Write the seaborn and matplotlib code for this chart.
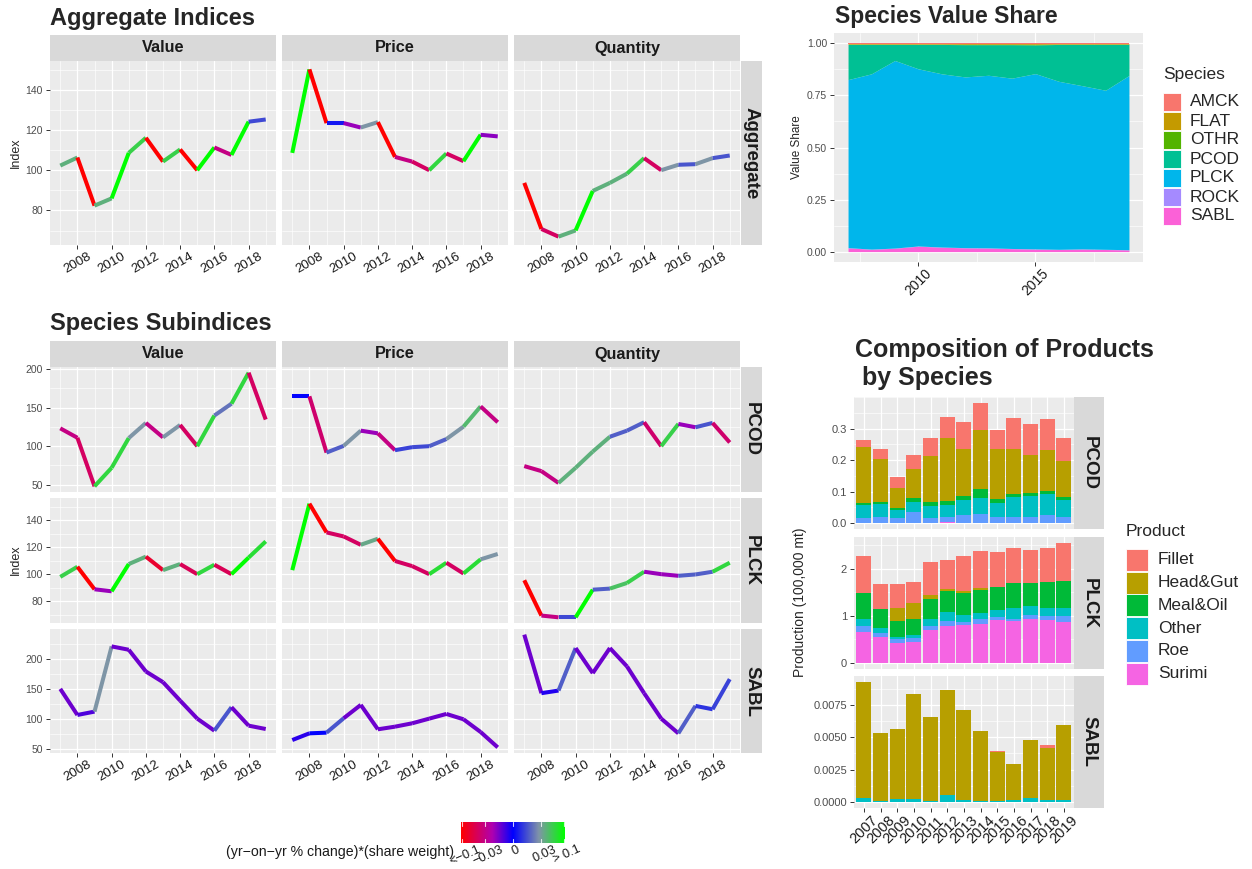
import numpy as np
import pandas as pd
import matplotlib
matplotlib.use("Agg")
import matplotlib.pyplot as plt
import seaborn as sns
from matplotlib.colors import LinearSegmentedColormap
from matplotlib.patches import Rectangle
from matplotlib.ticker import MultipleLocator, FixedLocator, FuncFormatter

# ------------------------------------------------------------------ data
years = [2007, 2008, 2009, 2010, 2011, 2012, 2013, 2014, 2015, 2016, 2017, 2018, 2019]
measures = ["Value", "Price", "Quantity"]

agg_value = [102.3, 106.3, 82.4, 86.0, 108.6, 116.1, 104.3, 110.3, 100.0, 111.3, 107.6, 124.1, 125.2]
agg_price = [108.6, 150.1, 123.4, 123.4, 121.2, 123.9, 106.6, 104.3, 100.0, 108.3, 104.5, 117.6, 116.8]
agg_quantity = [93.7, 70.8, 67.0, 70.1, 89.7, 93.7, 98.3, 106.0, 100.0, 102.7, 103.0, 106.0, 107.3]
agg_value_chg = [0.04, -0.12, 0.04, 0.12, 0.06, -0.12, 0.06, -0.12, 0.12, -0.03, 0.12, 0.006]
agg_price_chg = [0.12, -0.12, 0.0005, -0.012, 0.025, -0.12, -0.03, -0.045, 0.065, -0.045, 0.12, -0.01]
agg_quantity_chg = [-0.12, -0.045, 0.04, 0.12, 0.04, 0.04, 0.06, -0.045, 0.025, 0.008, 0.025, 0.008]

pcod_value = [123.1, 110.9, 48.0, 72.0, 110.5, 130.1, 111.4, 127.5, 100.0, 139.7, 155.0, 195.2, 134.5]
pcod_price = [164.6, 164.6, 91.7, 100.4, 120.1, 116.6, 94.8, 98.7, 100.0, 109.2, 125.3, 151.5, 131.0]
pcod_quantity = [74.2, 67.7, 52.4, 72.0, 93.0, 112.2, 120.1, 131.0, 100.0, 128.8, 124.5, 130.1, 104.8]
pcod_value_chg = [-0.03, -0.045, 0.065, 0.065, 0.025, -0.03, 0.025, -0.045, 0.065, 0.015, 0.065, -0.045]
pcod_price_chg = [0.0, -0.04, 0.01, 0.025, -0.012, -0.03, 0.005, 0.006, 0.01, 0.025, 0.045, -0.03]
pcod_quantity_chg = [-0.03, -0.03, 0.04, 0.04, 0.04, 0.01, 0.01, -0.04, 0.06, -0.012, 0.008, -0.04]

plck_value = [98.0, 105.5, 88.8, 87.3, 107.5, 113.0, 103.0, 107.5, 100.0, 107.0, 100.0, 112.3, 124.3]
plck_price = [103.0, 152.3, 131.0, 128.0, 121.8, 126.3, 109.8, 106.0, 100.0, 108.5, 100.5, 111.0, 115.0]
plck_quantity = [95.5, 69.3, 68.0, 68.0, 88.5, 89.3, 93.5, 101.8, 100.0, 98.8, 99.8, 101.8, 108.5]
plck_value_chg = [0.06, -0.12, -0.012, 0.12, 0.04, -0.07, 0.04, -0.05, 0.065, -0.05, 0.12, 0.07]
plck_price_chg = [0.12, -0.12, -0.045, -0.045, 0.035, -0.12, -0.045, -0.045, 0.07, -0.045, 0.07, 0.025]
plck_quantity_chg = [-0.12, -0.03, 0.006, 0.12, 0.01, 0.05, 0.06, -0.012, -0.012, 0.01, 0.01, 0.065]

sabl_value = [149.6, 106.1, 111.7, 220.4, 214.8, 178.6, 160.8, 130.1, 100.0, 79.9, 119.0, 88.3, 82.7]
sabl_price = [64.3, 75.5, 76.6, 100.6, 122.9, 82.2, 86.6, 92.2, 100.0, 107.8, 98.9, 77.7, 52.1]
sabl_quantity = [240.0, 142.4, 146.8, 217.6, 175.8, 217.6, 187.0, 142.4, 100.0, 75.5, 121.2, 115.6, 165.8]
sabl_value_chg = [-0.006, -0.003, 0.025, -0.006, -0.006, -0.006, -0.006, -0.006, -0.006, 0.008, -0.006, -0.006]
sabl_price_chg = [-0.001, 0.0, 0.008, -0.006, -0.006, -0.006, -0.006, -0.006, -0.006, -0.006, -0.006, -0.006]
sabl_quantity_chg = [-0.006, -0.0005, 0.01, -0.006, -0.006, -0.006, -0.006, -0.006, -0.006, 0.01, 0.003, 0.005]

# species value share
species = ["AMCK", "FLAT", "OTHR", "PCOD", "PLCK", "ROCK", "SABL"]
share_amck = [0.001, 0.001, 0.001, 0.001, 0.001, 0.001, 0.001, 0.001, 0.001, 0.001, 0.001, 0.001, 0.001]
share_flat = [0.003, 0.003, 0.003, 0.003, 0.003, 0.004, 0.004, 0.004, 0.004, 0.003, 0.003, 0.003, 0.003]
share_othr = [0.001, 0.001, 0.001, 0.001, 0.001, 0.001, 0.001, 0.001, 0.002, 0.001, 0.001, 0.001, 0.001]
share_pcod = [0.169, 0.141, 0.077, 0.117, 0.141, 0.155, 0.147, 0.161, 0.138, 0.177, 0.198, 0.220, 0.149]
share_plck = [0.807, 0.842, 0.901, 0.851, 0.832, 0.820, 0.829, 0.818, 0.842, 0.807, 0.784, 0.764, 0.837]
share_rock = [0.001, 0.001, 0.001, 0.001, 0.001, 0.001, 0.001, 0.001, 0.001, 0.001, 0.001, 0.001, 0.001]
share_sabl = [0.018, 0.011, 0.016, 0.026, 0.021, 0.018, 0.017, 0.014, 0.012, 0.010, 0.012, 0.010, 0.008]

# product composition (100,000 mt)
products = ["Fillet", "Head&Gut", "Meal&Oil", "Other", "Roe", "Surimi"]
pcod_fillet = [0.023, 0.029, 0.037, 0.044, 0.060, 0.066, 0.085, 0.085, 0.063, 0.098, 0.098, 0.101, 0.076]
pcod_headgut = [0.178, 0.139, 0.064, 0.092, 0.146, 0.203, 0.152, 0.190, 0.158, 0.145, 0.123, 0.130, 0.114]
pcod_mealoil = [0.007, 0.006, 0.006, 0.013, 0.012, 0.012, 0.012, 0.028, 0.013, 0.010, 0.010, 0.009, 0.009]
pcod_other = [0.041, 0.041, 0.025, 0.031, 0.038, 0.038, 0.048, 0.051, 0.044, 0.063, 0.066, 0.067, 0.054]
pcod_roe = [0.016, 0.019, 0.016, 0.035, 0.016, 0.017, 0.025, 0.028, 0.019, 0.019, 0.019, 0.025, 0.019]
pcod_surimi = [0.0, 0.0, 0.0, 0.0, 0.0, 0.002, 0.0, 0.0, 0.0, 0.0, 0.0, 0.0, 0.0]

plck_fillet = [0.782, 0.528, 0.507, 0.457, 0.711, 0.613, 0.740, 0.781, 0.739, 0.740, 0.697, 0.719, 0.803]
plck_headgut = [0.014, 0.014, 0.275, 0.324, 0.071, 0.042, 0.042, 0.043, 0.004, 0.004, 0.004, 0.004, 0.004]
plck_mealoil = [0.542, 0.387, 0.338, 0.338, 0.422, 0.443, 0.465, 0.486, 0.486, 0.528, 0.486, 0.549, 0.570]
plck_other = [0.141, 0.106, 0.063, 0.078, 0.162, 0.205, 0.162, 0.126, 0.148, 0.232, 0.190, 0.169, 0.169]
plck_roe = [0.127, 0.085, 0.077, 0.091, 0.071, 0.091, 0.049, 0.106, 0.063, 0.043, 0.084, 0.084, 0.127]
plck_surimi = [0.669, 0.563, 0.423, 0.437, 0.711, 0.796, 0.817, 0.838, 0.923, 0.901, 0.944, 0.923, 0.880]

sabl_fillet = [0.0, 0.0, 0.0, 0.0, 0.0, 0.0, 0.0, 0.0, 0.00007, 0.0, 0.0, 0.00023, 0.0]
sabl_headgut = [0.00896, 0.00526, 0.00541, 0.00809, 0.00648, 0.00811, 0.00697, 0.00541, 0.00373, 0.00276, 0.00449, 0.00398, 0.00582]
sabl_mealoil = [0.0, 0.0, 0.00005, 0.00005, 0.0, 0.0, 0.0, 0.0, 0.0, 0.0, 0.00003, 0.0, 0.0]
sabl_other = [0.0003, 0.0001, 0.0002, 0.0002, 0.0001, 0.00054, 0.00015, 0.0001, 0.0001, 0.00015, 0.0003, 0.00015, 0.00015]
sabl_roe = [0.0, 0.0, 0.0, 0.0, 0.0, 0.0, 0.0, 0.0, 0.0, 0.0, 0.0, 0.0, 0.0]
sabl_surimi = [0.0, 0.0, 0.0, 0.0, 0.0, 0.0, 0.0, 0.0, 0.0, 0.0, 0.0, 0.0, 0.0]

cbar_breaks = [-0.1, -0.03, 0.0, 0.03, 0.1]
cbar_labels = ["<\u22120.1", "\u22120.03", "0", "0.03", "> 0.1"]

# ------------------------------------------------------------------ style
sns.set_theme(style="darkgrid", rc={"axes.facecolor": "#EBEBEB", "grid.color": "white"})
plt.rcParams["font.family"] = ["Liberation Sans", "DejaVu Sans"]

W, H = 1252, 869
fig = plt.figure(figsize=(W / 100, H / 100), dpi=100)
fig.patch.set_facecolor("white")

def add_ax(x0, y0, x1, y1):
    return fig.add_axes([x0 / W, 1 - y1 / H, (x1 - x0) / W, (y1 - y0) / H])

def fx(x):
    return x / W

def fy(y):
    return 1 - y / H

species_pal = dict(zip(species, ["#F8766D", "#C49A00", "#53B400", "#00C094", "#00B6EB", "#A58AFF", "#FB61D7"]))
product_pal = dict(zip(products, ["#F8766D", "#B79F00", "#00BA38", "#00BFC4", "#619CFF", "#F564E3"]))

cmap = LinearSegmentedColormap.from_list(
    "chg", [(0.0, "#FF0000"), (0.3, "#B000B0"), (0.5, "#0000FF"), (0.75, "#8094A8"), (1.0, "#00FF00")])

def chg_pos(v):
    v = max(-0.1, min(0.1, v))
    return 0.5 + 0.5 * np.sign(v) * np.sqrt(abs(v) / 0.1)

def base_style(ax):
    ax.set_facecolor("#EBEBEB")
    for s in ax.spines.values():
        s.set_visible(False)
    ax.grid(which="major", color="white", lw=0.9)
    ax.grid(which="minor", color="white", lw=0.45)
    ax.tick_params(which="major", bottom=True, left=True, length=3, width=0.7, color="#333333", pad=2)
    ax.tick_params(axis="x", which="major", pad=1)
    ax.tick_params(which="minor", bottom=False, left=False, length=0)
    ax.set_xlabel("")
    ax.set_ylabel("")

def strip(x0, y0, x1, y1, text, rot=0, size=11.7):
    s = add_ax(x0, y0, x1, y1)
    s.set_facecolor("#D9D9D9")
    s.set_xticks([]); s.set_yticks([])
    s.grid(False)
    for sp in s.spines.values():
        sp.set_visible(False)
    s.text(0.5, 0.5, text, transform=s.transAxes, ha="center", va="center", rotation=rot,
           fontsize=size, fontweight="bold", color="#1A1A1A", clip_on=True)

def draw_index(ax, vals, chg):
    rows = []
    for i in range(len(years) - 1):
        rows.append((years[i], vals[i], f"s{i}"))
        rows.append((years[i + 1], vals[i + 1], f"s{i}"))
    df = pd.DataFrame(rows, columns=["year", "index", "seg"])
    pal = {f"s{i}": cmap(chg_pos(c)) for i, c in enumerate(chg)}
    sns.lineplot(data=df, x="year", y="index", hue="seg", palette=pal, estimator=None,
                 sort=False, legend=False, ax=ax, lw=2.9, solid_capstyle="butt")

col_x = [(50, 276), (282, 508), (514, 740)]

def index_row(series, chgs, y0, y1, step, show_x, show_ystrip_text, ystrip_size=13.5):
    allv = np.concatenate([np.asarray(s) for s in series])
    lo, hi = allv.min(), allv.max()
    pad = (hi - lo) * 0.05
    for j, ((x0, x1), vals, chg) in enumerate(zip(col_x, series, chgs)):
        ax = add_ax(x0, y0, x1, y1)
        draw_index(ax, vals, chg)
        base_style(ax)
        ax.set_xlim(2006.4, 2019.6)
        ax.set_ylim(lo - pad, hi + pad)
        ax.xaxis.set_major_locator(FixedLocator([2008, 2010, 2012, 2014, 2016, 2018]))
        ax.xaxis.set_minor_locator(FixedLocator([2007, 2009, 2011, 2013, 2015, 2017, 2019]))
        ax.yaxis.set_major_locator(MultipleLocator(step))
        ax.yaxis.set_minor_locator(MultipleLocator(step / 2))
        ax.yaxis.set_major_formatter(FuncFormatter(lambda v, p: f"{v:.0f}"))
        if show_x:
            ax.set_xticklabels(["2008", "2010", "2012", "2014", "2016", "2018"], rotation=30,
                               ha="center", va="top", fontsize=9.5, color="#1A1A1A")
        else:
            ax.tick_params(axis="x", which="major", bottom=False, labelbottom=False)
        if j == 0:
            for t in ax.get_yticklabels():
                t.set_fontsize(7.5); t.set_color("#4D4D4D")
        else:
            ax.tick_params(axis="y", which="major", left=False, labelleft=False)
    strip(741, y0, 762, y1, show_ystrip_text, rot=270, size=ystrip_size)

# ------------------------------------------------------------------ Aggregate indices
fig.text(fx(50), fy(25), "Aggregate Indices", fontsize=17, fontweight="bold", ha="left", va="baseline")
for (x0, x1), m in zip(col_x, measures):
    strip(x0, 35, x1, 61, m)
index_row([agg_value, agg_price, agg_quantity],
          [agg_value_chg, agg_price_chg, agg_quantity_chg], 61, 245, 20, True, "Aggregate")
fig.text(fx(16), fy(153), "Index", rotation=90, ha="center", va="center", fontsize=9)

# ------------------------------------------------------------------ Species subindices
fig.text(fx(50), fy(330), "Species Subindices", fontsize=17, fontweight="bold", ha="left", va="baseline")
for (x0, x1), m in zip(col_x, measures):
    strip(x0, 341, x1, 367, m)
index_row([pcod_value, pcod_price, pcod_quantity],
          [pcod_value_chg, pcod_price_chg, pcod_quantity_chg], 367, 492, 50, False, "PCOD")
index_row([plck_value, plck_price, plck_quantity],
          [plck_value_chg, plck_price_chg, plck_quantity_chg], 498, 623, 20, False, "PLCK")
index_row([sabl_value, sabl_price, sabl_quantity],
          [sabl_value_chg, sabl_price_chg, sabl_quantity_chg], 629, 753, 50, True, "SABL")
fig.text(fx(16), fy(560), "Index", rotation=90, ha="center", va="center", fontsize=9)

# ------------------------------------------------------------------ colour bar legend
cax = add_ax(461, 822, 565, 843)
cax.imshow(np.linspace(0, 1, 256)[None, :], aspect="auto", cmap=cmap, extent=(0, 1, 0, 1))
cax.set_xlim(0, 1); cax.set_ylim(0, 1)
cax.set_xticks([]); cax.set_yticks([]); cax.grid(False)
for s in cax.spines.values():
    s.set_visible(False)
for b, lab in zip(cbar_breaks, cbar_labels):
    p = chg_pos(b)
    p = min(max(p, 0.01), 0.99)
    cax.plot([p, p], [0, 0.2], color="white", lw=0.8, alpha=0.8)
    cax.plot([p, p], [0.8, 1], color="white", lw=0.8, alpha=0.8)
    fig.text(fx(461 + p * 104 + 3), fy(843.5), lab, rotation=24, ha="center", va="top",
             fontsize=9.2, color="#1A1A1A")
fig.text(fx(454), fy(852), "(yr\u2212on\u2212yr % change)*(share weight)", ha="right", va="center", fontsize=10.2, color="#1A1A1A")

# ------------------------------------------------------------------ Species value share
fig.text(fx(835), fy(23), "Species Value Share", fontsize=16.5, fontweight="bold", ha="left", va="baseline")
sax = add_ax(834, 33, 1143, 262)
stack_order = ["SABL", "ROCK", "PLCK", "PCOD", "OTHR", "FLAT", "AMCK"]
share_map = {"AMCK": share_amck, "FLAT": share_flat, "OTHR": share_othr, "PCOD": share_pcod,
             "PLCK": share_plck, "ROCK": share_rock, "SABL": share_sabl}
sax.stackplot(years, *[share_map[s] for s in stack_order], colors=[species_pal[s] for s in stack_order], lw=0)
base_style(sax)
sax.tick_params(axis="x", which="major", pad=0)
sax.set_xlim(2006.4, 2019.6)
sax.set_ylim(-0.05, 1.05)
sax.xaxis.set_major_locator(FixedLocator([2010, 2015]))
sax.xaxis.set_minor_locator(FixedLocator([2007.5, 2012.5, 2017.5]))
sax.yaxis.set_major_locator(FixedLocator([0, 0.25, 0.5, 0.75, 1.0]))
sax.yaxis.set_minor_locator(FixedLocator([0.125, 0.375, 0.625, 0.875]))
sax.set_yticklabels(["0.00", "0.25", "0.50", "0.75", "1.00"], fontsize=7.5, color="#4D4D4D")
sax.set_xticklabels(["2010", "2015"], rotation=45, ha="center", va="top", fontsize=10, color="#1A1A1A")
fig.text(fx(797), fy(147), "Value Share", rotation=90, ha="center", va="center", fontsize=8.5)

fig.text(fx(1163), fy(75), "Species", fontsize=12.5, ha="left", va="center")
for i, sp in enumerate(species):
    y0 = 93 + 19 * i
    fig.add_artist(Rectangle((fx(1163), fy(y0 + 17.5)), 18 / W, 17.5 / H, transform=fig.transFigure,
                             facecolor=species_pal[sp], edgecolor="white", lw=0.6))
    fig.text(fx(1190), fy(y0 + 9), sp, fontsize=12.5, ha="left", va="center")

# ------------------------------------------------------------------ Composition of products
fig.text(fx(855), fy(357), "Composition of Products", fontsize=18, fontweight="bold",
         ha="left", va="baseline")
fig.text(fx(855), fy(385), " by Species", fontsize=18, fontweight="bold",
         ha="left", va="baseline")
comp = {
    "PCOD": [pcod_fillet, pcod_headgut, pcod_mealoil, pcod_other, pcod_roe, pcod_surimi],
    "PLCK": [plck_fillet, plck_headgut, plck_mealoil, plck_other, plck_roe, plck_surimi],
    "SABL": [sabl_fillet, sabl_headgut, sabl_mealoil, sabl_other, sabl_roe, sabl_surimi],
}
comp_rows = {"PCOD": (397, 529), "PLCK": (537, 669), "SABL": (676, 808)}
comp_step = {"PCOD": 0.1, "PLCK": 1.0, "SABL": 0.0025}
comp_fmt = {"PCOD": "{:.1f}", "PLCK": "{:.0f}", "SABL": "{:.4f}"}
for sp, arrs in comp.items():
    y0, y1 = comp_rows[sp]
    ax = add_ax(854, y0, 1074, y1)
    recs = []
    for prod, arr in zip(products, arrs):
        for yr, v in zip(years, arr):
            recs.append((yr, prod, v))
    df = pd.DataFrame(recs, columns=["year", "Product", "prod"])
    sns.histplot(data=df, x="year", weights="prod", hue="Product", hue_order=products,
                 multiple="stack", discrete=True, shrink=0.9, palette=product_pal,
                 linewidth=0, alpha=1, legend=False, ax=ax)
    base_style(ax)
    tot = np.sum(np.array(arrs), axis=0).max()
    ax.set_xlim(2006.4, 2019.6)
    ax.set_ylim(-0.05 * tot, 1.05 * tot)
    ax.xaxis.set_major_locator(FixedLocator(years))
    ax.xaxis.set_minor_locator(FixedLocator([]))
    st = comp_step[sp]
    majors = np.arange(0, tot + 1e-12, st)
    minors = np.arange(-st / 2, 1.05 * tot, st)
    ax.yaxis.set_major_locator(FixedLocator(majors))
    ax.yaxis.set_minor_locator(FixedLocator(np.append(minors, majors[-1] + st)))
    fmt = comp_fmt[sp]
    ax.yaxis.set_major_formatter(FuncFormatter(lambda v, p, fmt=fmt: fmt.format(v)))
    for t in ax.get_yticklabels():
        t.set_fontsize(8); t.set_color("#4D4D4D")
    if sp == "SABL":
        ax.set_xticklabels([str(y) for y in years], rotation=45, ha="center", va="top",
                           fontsize=10.5, color="#1A1A1A")
    else:
        ax.tick_params(axis="x", which="major", bottom=False, labelbottom=False)
    ax.set_xlabel(""); ax.set_ylabel("")
    strip(1074, y0, 1104, y1, sp, rot=270, size=13.5)
fig.text(fx(800), fy(602), "Production (100,000 mt)", rotation=90, ha="center", va="center", fontsize=10)

fig.text(fx(1126), fy(532), "Product", fontsize=12.5, ha="left", va="center")
for i, pr in enumerate(products):
    y0 = 549 + 22.7 * i
    fig.add_artist(Rectangle((fx(1126), fy(y0 + 22)), 21.5 / W, 22 / H, transform=fig.transFigure,
                             facecolor=product_pal[pr], edgecolor="white", lw=0.6))
    fig.text(fx(1158), fy(y0 + 11), pr, fontsize=12.5, ha="left", va="center")

fig.savefig("out.png", dpi=100, facecolor="white")
